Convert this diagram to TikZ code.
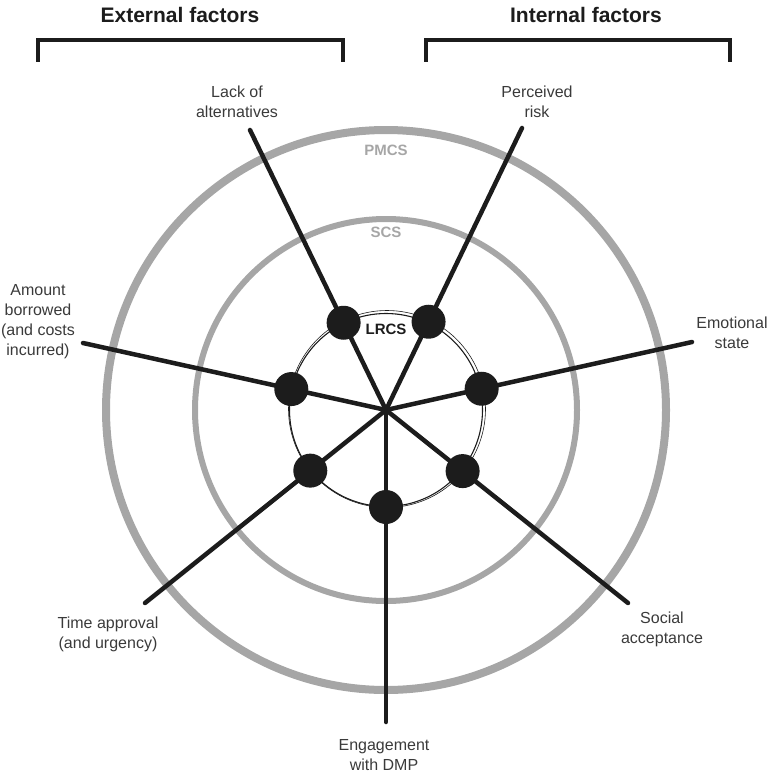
\documentclass[tikz,border=0pt]{standalone}
\usepackage{fontspec}
\setmainfont{Liberation Sans}
\usetikzlibrary{calc}
\definecolor{ringgray}{RGB}{166,166,166}
\definecolor{inkdark}{RGB}{28,28,28}
\definecolor{labelgray}{RGB}{58,58,58}
\tikzset{
  spoke/.style={draw=inkdark, line width=4.5pt, line cap=round},
  knot/.style={circle, fill=inkdark, minimum size=34pt, inner sep=0pt},
  factor/.style={align=center, text=labelgray, inner sep=0pt, font=\fontsize{16}{20}\selectfont},
  ringname/.style={inner sep=0pt, font=\fontsize{15}{18}\bfseries\selectfont},
  heading/.style={inner sep=0pt, text=inkdark, font=\fontsize{21}{24}\bfseries\selectfont},
  bracket/.style={draw=inkdark, line width=3.5pt},
}
\begin{document}
\begin{tikzpicture}[x=1pt,y=1pt,yscale=-1,xscale=1]
        \useasboundingbox (0,0) rectangle (769,776);
        \coordinate (hub) at (386,410);
        % the three rings
        \draw [ringgray, line width=8pt] (hub) circle (280pt);
        \draw [ringgray, line width=6pt] (hub) circle (191pt);
        \draw [inkdark, line width=1.1pt] (hub) circle (96.5pt);
        \draw [inkdark, line width=0.6pt] ($(hub)+(1,-1)$) circle (98.5pt);
        \node [ringname, text=ringgray] (pmcs) at (386,150) {PMCS};
        \node [ringname, text=ringgray] (scs) at (386,232) {SCS};
        \node [ringname, text=inkdark] (lrcs) at (386,329) {LRCS};
        % spoke ends
        \coordinate (tipLack) at (250,130);
        \coordinate (tipRisk) at (522,128);
        \coordinate (tipEmotion) at (692,342);
        \coordinate (tipSocial) at (628,603);
        \coordinate (tipDmp) at (386,722);
        \coordinate (tipTime) at (145,603);
        \coordinate (tipAmount) at (83,343);
        \draw [spoke] (hub) -- (tipLack);
        \draw [spoke] (hub) -- (tipRisk);
        \draw [spoke] (hub) -- (tipEmotion);
        \draw [spoke] (hub) -- (tipSocial);
        \draw [spoke] (hub) -- (tipDmp);
        \draw [spoke] (hub) -- (tipTime);
        \draw [spoke] (hub) -- (tipAmount);
        \node [knot] (dotLack) at ($(hub)!97pt!(tipLack)$) {};
        \node [knot] (dotRisk) at ($(hub)!98pt!(tipRisk)$) {};
        \node [knot] (dotEmotion) at ($(hub)!98pt!(tipEmotion)$) {};
        \node [knot] (dotSocial) at ($(hub)!98pt!(tipSocial)$) {};
        \node [knot] (dotDmp) at ($(hub)!97pt!(tipDmp)$) {};
        \node [knot] (dotTime) at ($(hub)!97pt!(tipTime)$) {};
        \node [knot] (dotAmount) at ($(hub)!97pt!(tipAmount)$) {};
        % factor labels
        \node [factor] (lack) at (237,102) {Lack of\\alternatives};
        \node [factor] (risk) at (537,102) {Perceived\\risk};
        \node [factor] (emotion) at (732,333) {Emotional\\state};
        \node [factor] (social) at (662,629) {Social\\acceptance};
        \node [factor] (dmp) at (384,755) {Engagement\\with DMP};
        \node [factor] (time) at (108,634) {Time approval\\(and urgency)};
        \node [factor] (amount) at (38,322) {Amount\\borrowed\\(and costs\\incurred)};
        % headings and brackets
        \node [heading] (external) at (180,15) {External factors};
        \node [heading] (internal) at (586,15) {Internal factors};
        \draw [bracket] (38,62) -- (38,40) -- (343,40) -- (343,62);
        \draw [bracket] (426,62) -- (426,40) -- (730,40) -- (730,62);
    \end{tikzpicture}
\end{document}
